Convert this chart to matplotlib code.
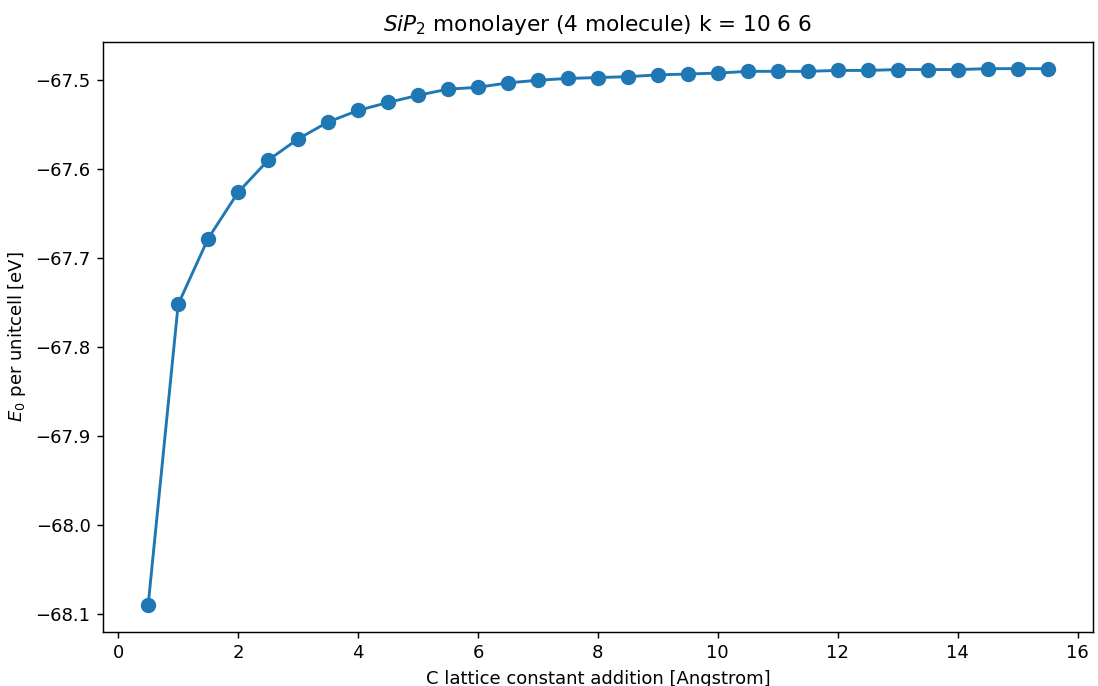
import numpy as np
import matplotlib.pyplot as plt

# C lattice constant addition [Angstrom]
c_add = np.arange(0.5, 16.0, 0.5)

# total energy per unit cell [eV]
e0 = [-68.090, -67.752, -67.678, -67.626, -67.590, -67.566, -67.547, -67.534,
      -67.525, -67.517, -67.510, -67.508, -67.503, -67.500, -67.498, -67.497,
      -67.496, -67.494, -67.493, -67.492, -67.490, -67.490, -67.490, -67.489,
      -67.489, -67.488, -67.488, -67.488, -67.487, -67.487, -67.487]

fig = plt.figure(figsize=(1098/130, 686/130), dpi=130)
ax = fig.add_axes([0.094, 0.079, 0.901, 0.860])

ax.plot(c_add, e0, 'o-', color='#1f77b4', markersize=7.5, linewidth=1.6)
ax.set_xticks(np.arange(0, 17, 2))
ax.set_yticks([-68.1, -68.0, -67.9, -67.8, -67.7, -67.6, -67.5])

ax.set_title(r'$SiP_2$ monolayer (4 molecule) k = 10 6 6')
ax.set_xlabel('C lattice constant addition [Angstrom]')
ax.set_ylabel(r'$E_0$ per unitcell [eV]')

fig.savefig('out.png', dpi=130)
